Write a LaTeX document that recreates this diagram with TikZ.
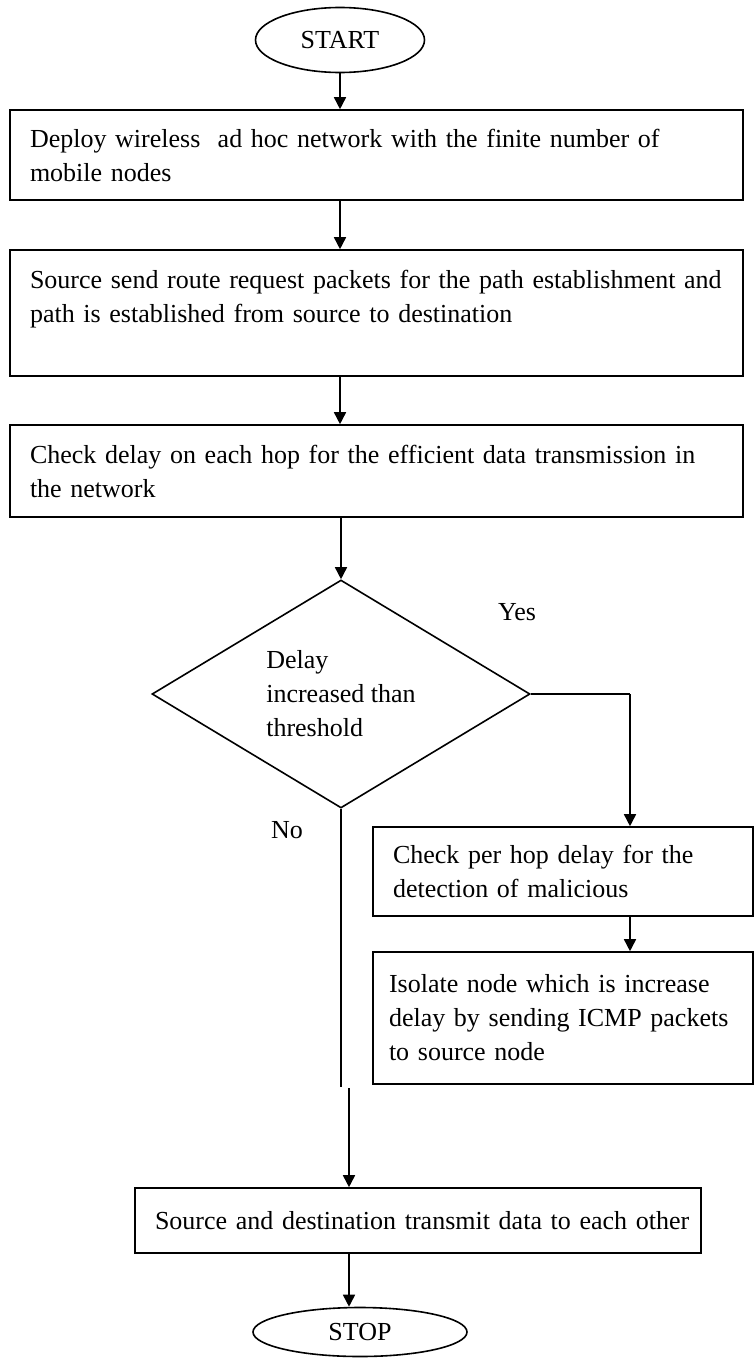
\documentclass[tikz,border=0pt]{standalone}
\usepackage{fontspec}
\setmainfont{Liberation Serif}
\usetikzlibrary{shapes.geometric,arrows.meta}

\begin{document}
\begin{tikzpicture}[x=0.5pt, y=-0.5pt, line width=0.8pt,
  font=\fontsize{13}{17}\selectfont,
  box/.style={draw, rectangle, inner xsep=10pt, inner ysep=0pt, align=left},
  oval/.style={draw, ellipse, inner sep=0pt},
  arr/.style={-{Triangle[length=6pt,width=6pt]}}]
\useasboundingbox (0,0) rectangle (755,1359);
% terminals
\node[oval, minimum width=84.5pt, minimum height=32.5pt] (start) at (340,40) {START};
\node[oval, minimum width=107pt, minimum height=24.5pt] (stop) at (360,1332) {STOP};
% main column
\node[box, text width=346.5pt, minimum height=45pt] (deploy) at (376.5,155)
  {Deploy wireless\ \ ad hoc network with the finite number of\\ mobile nodes};
\node[box, text width=346.5pt, minimum height=63pt] (route) at (376.5,313)
  {Source send route request packets for the path establishment and\\ path is established from source to destination\\ \mbox{}};
\node[box, text width=346.5pt, minimum height=46pt] (check) at (376.5,471)
  {\makebox[\linewidth][s]{Check delay on each hop for the efficient data transmission in}\\ the network};
\node[draw, diamond, aspect=1.66, minimum width=189pt, minimum height=114pt,
  inner sep=0pt, align=left] (delay) at (341,694) {Delay\\ increased than\\ threshold};
% yes branch
\node[box, text width=170pt, minimum height=44.5pt] (perhop) at (563,871.5)
  {Check per hop delay for the\\ detection of malicious};
\node[box, inner xsep=8pt, text width=174pt, minimum height=66pt] (isolate) at (563,1018)
  {\makebox[\linewidth][s]{Isolate node which is increase}\\ \makebox[\linewidth][s]{delay by sending ICMP packets}\\ to source node};
\node[box, text width=263pt, minimum height=32.5pt] (transmit) at (418,1220.5)
  {\mbox{Source and destination transmit data to each other}};
% labels
\node (yes) at (517,612) {Yes};
\node (no) at (287,830) {No};
\coordinate (yesbend) at (630,694);
\coordinate (nogap) at (341,1087);
\coordinate (nojoin) at (349,1088);
% connectors
\draw[arr] (start.south) -- (start.south |- deploy.north);
\draw[arr] (start.south |- deploy.south) -- (start.south |- route.north);
\draw[arr] (start.south |- route.south) -- (start.south |- check.north);
\draw[arr] (delay.north |- check.south) -- (delay.north);
\draw (delay.east) -- (yesbend);
\draw[arr] (yesbend) -- (yesbend |- perhop.north);
\draw[arr] (yesbend |- perhop.south) -- (yesbend |- isolate.north);
\draw (delay.south) -- (delay.south |- nogap);
\draw[arr] (nojoin) -- (nojoin |- transmit.north);
\draw[arr] (nojoin |- transmit.south) -- (nojoin |- stop.north);
\end{tikzpicture}
\end{document}
